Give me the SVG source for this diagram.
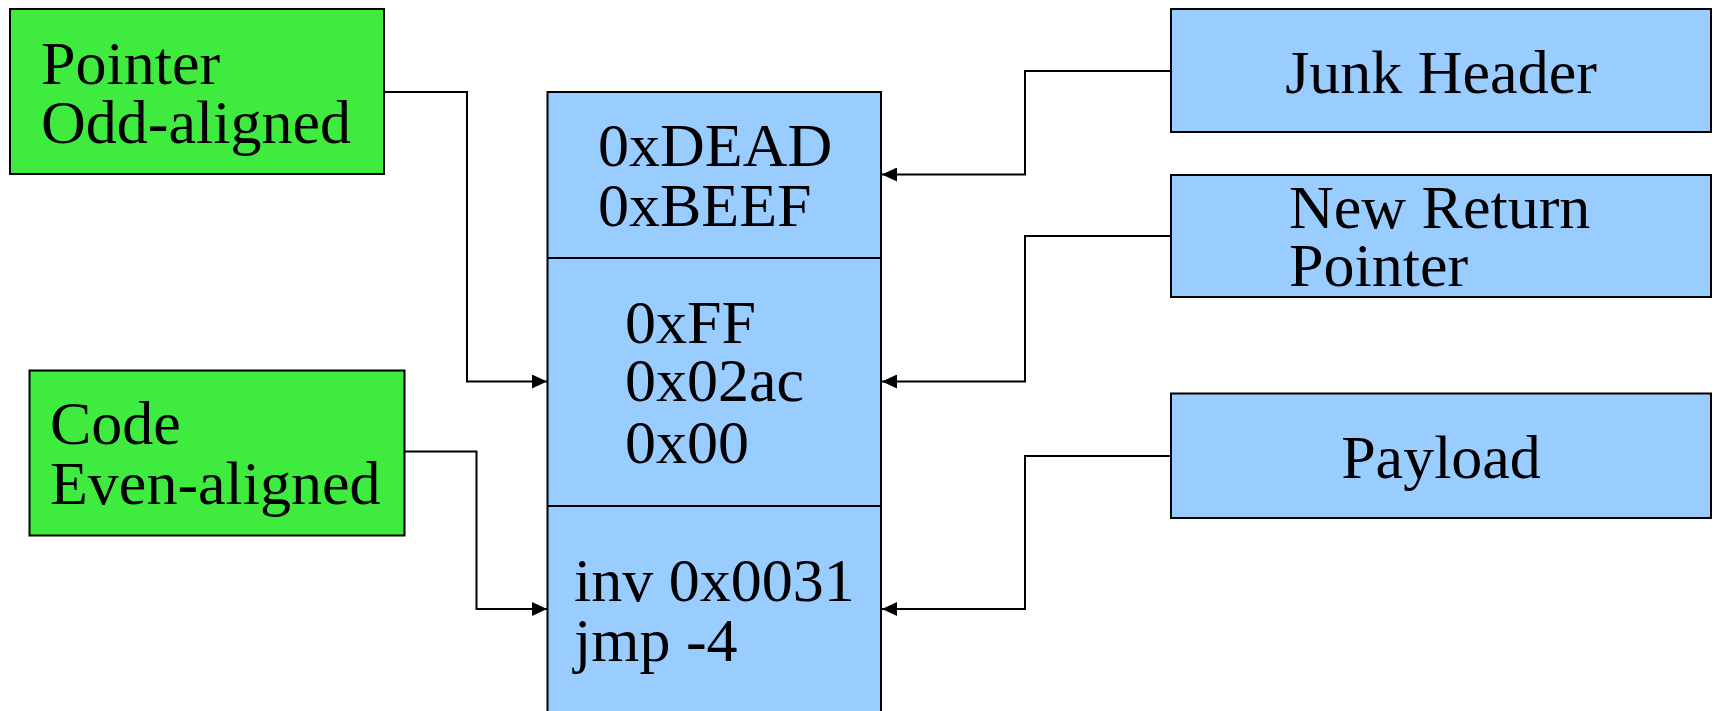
<svg xmlns="http://www.w3.org/2000/svg" width="1714" height="711" viewBox="0 0 1714 711">
<style>
.g{fill:#3feb3f;stroke:#000;stroke-width:2}
.b{fill:#99ccff;stroke:#000;stroke-width:2}
.t{font-family:"Liberation Serif","Times New Roman",serif;font-size:62px;fill:#000}
.c{fill:none;stroke:#000;stroke-width:2}
</style>
<defs>
<marker id="ah" markerWidth="15" markerHeight="14" refX="15" refY="7" orient="auto" markerUnits="userSpaceOnUse">
<path d="M0,0 L15,7 L0,14 Z" fill="#000"/>
</marker>
</defs>
<rect width="1714" height="711" fill="#fff"/>
<g id="connectors">
<path class="c" d="M384,92 H467 V381.5 H547" marker-end="url(#ah)"/>
<path class="c" d="M404.5,451.5 H476.5 V609 H547" marker-end="url(#ah)"/>
<path class="c" d="M1171,71 H1025 V174.5 H882" marker-end="url(#ah)"/>
<path class="c" d="M1171,236 H1025 V381.5 H882" marker-end="url(#ah)"/>
<path class="c" d="M1171,456 H1025 V609 H882" marker-end="url(#ah)"/>
</g>
<g id="pointer-odd">
<rect class="g" x="10" y="9" width="374" height="165"/>
<text class="t"><tspan x="41" y="84">Pointer</tspan><tspan x="41" y="143">Odd-aligned</tspan></text>
</g>
<g id="code-even">
<rect class="g" x="29.5" y="370.5" width="375" height="165"/>
<text class="t"><tspan x="50" y="444">Code</tspan><tspan x="50" y="504">Even-aligned</tspan></text>
</g>
<g id="stack">
<rect class="b" x="547.5" y="92" width="333.5" height="630"/>
<line class="c" x1="547.5" y1="258" x2="881" y2="258"/>
<line class="c" x1="547.5" y1="506" x2="881" y2="506"/>
<text class="t"><tspan x="598" y="166">0xDEAD</tspan><tspan x="598" y="226">0xBEEF</tspan></text>
<text class="t"><tspan x="625" y="343">0xFF</tspan><tspan x="625" y="401">0x02ac</tspan><tspan x="625" y="463">0x00</tspan></text>
<text class="t"><tspan x="574" y="601">inv 0x0031</tspan><tspan x="574" y="661">jmp -4</tspan></text>
</g>
<g id="junk-header">
<rect class="b" x="1171" y="9" width="540" height="123"/>
<text class="t" x="1441" y="93" text-anchor="middle">Junk Header</text>
</g>
<g id="new-return-pointer">
<rect class="b" x="1171" y="175" width="540" height="122"/>
<text class="t"><tspan x="1289" y="228">New Return</tspan><tspan x="1289" y="286">Pointer</tspan></text>
</g>
<g id="payload">
<rect class="b" x="1171" y="393.5" width="540" height="124.5"/>
<text class="t" x="1441" y="478" text-anchor="middle">Payload</text>
</g>
</svg>
